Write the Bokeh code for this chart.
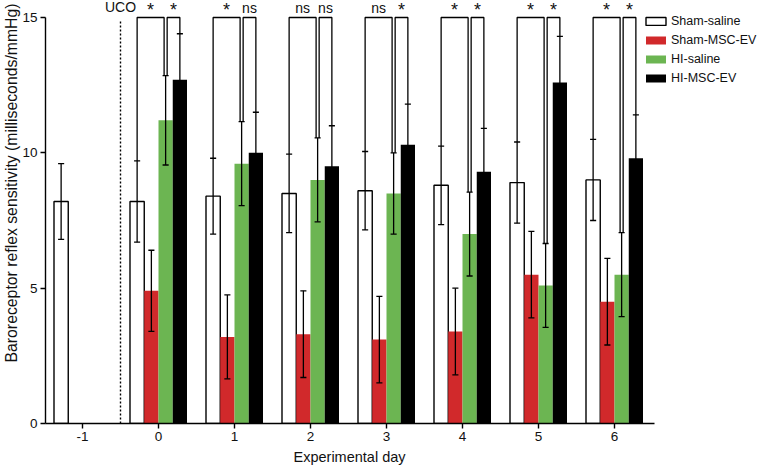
from bokeh.plotting import figure
from bokeh.models import Range1d, FixedTicker, Legend, LegendItem, Title
from bokeh.embed import file_html
from bokeh.resources import INLINE
from bokeh.core.properties import value

# ---------------- data ----------------
days = [-1, 0, 1, 2, 3, 4, 5, 6]
day_labels = {-1: "-1"}
treat_days = [0, 1, 2, 3, 4, 5, 6]
groups = ["Sham-saline", "Sham-MSC-EV", "HI-saline", "HI-MSC-EV"]

sham_saline = [8.2, 8.2, 8.4, 8.5, 8.6, 8.8, 8.9, 9.0]
sham_saline_err = [1.4, 1.5, 1.4, 1.45, 1.45, 1.45, 1.5, 1.5]
sham_msc_ev = [4.9, 3.2, 3.3, 3.1, 3.4, 5.5, 4.5]
sham_msc_ev_err = [1.5, 1.55, 1.6, 1.6, 1.6, 1.6, 1.6]
hi_saline = [11.2, 9.6, 9.0, 8.5, 7.0, 5.1, 5.5]
hi_saline_err = [1.65, 1.55, 1.55, 1.5, 1.55, 1.55, 1.55]
hi_msc_ev = [12.7, 10.0, 9.5, 10.3, 9.3, 12.6, 9.8]
hi_msc_ev_err = [1.7, 1.5, 1.5, 1.5, 1.6, 1.7, 1.6]

# significance: Sham-saline vs HI-saline, HI-saline vs HI-MSC-EV
sig_sham_vs_hi = ["*", "*", "ns", "ns", "*", "*", "*"]
sig_hi_vs_ev = ["*", "ns", "ns", "*", "*", "*", "*"]

y_ticks = [0, 5, 10, 15]
y_max = 15
uco_day = -0.5

# ---------------- style ----------------
FONT = "Liberation Sans"
TXT = "#111111"
colors = ["white", "#d1292b", "#6cb552", "black"]
bar_w = 0.1875
offsets = [-1.5 * bar_w, -0.5 * bar_w, 0.5 * bar_w, 1.5 * bar_w]
cap = 0.04
gap = 0.02

left = 43
frame_w, frame_h = 762 - left, 423
px_x = 76.0
x0 = -1 - (80 - left) / px_x
x1 = x0 + frame_w / px_x
px_y = (frame_h - 17) / y_max
y1 = y_max + 17 / px_y

p = figure(frame_width=frame_w, frame_height=frame_h, output_backend="svg",
           toolbar_location=None, x_range=Range1d(x0, x1), y_range=Range1d(0, y1),
           min_border_left=left, min_border_right=0, min_border_top=0, min_border_bottom=0)
p.background_fill_color = None
p.border_fill_color = None
p.outline_line_color = None
p.grid.visible = False

for ax in (p.xaxis[0], p.yaxis[0]):
    ax.axis_line_width = 1.4
    ax.axis_line_color = "black"
    ax.major_tick_line_width = 1.4
    ax.major_tick_line_color = "black"
    ax.major_tick_out = 5
    ax.major_tick_in = 0
    ax.minor_tick_line_color = None
    ax.major_label_text_font = FONT
    ax.major_label_text_font_size = "13.5px"
    ax.major_label_text_color = TXT
    ax.major_label_standoff = 3

p.xaxis.ticker = FixedTicker(ticks=days)
p.xaxis.major_label_overrides = day_labels
p.xaxis.bounds = (x0, 6.53)
p.yaxis.ticker = FixedTicker(ticks=y_ticks)
p.yaxis.bounds = (0, y_max)

ytitle = Title(text="Baroreceptor reflex sensitivity (milliseconds/mmHg)", align="left",
               offset=61, standoff=0, text_font=FONT, text_font_size="15.8px",
               text_font_style="normal", text_color=TXT)
p.add_layout(ytitle, "left")
xtitle = Title(text="Experimental day", align="left", offset=248, standoff=6,
               text_font=FONT, text_font_size="14.5px", text_font_style="normal",
               text_color=TXT)
p.add_layout(xtitle, "below")

# ---------------- bars ----------------
series = [
    (days, sham_saline, sham_saline_err),
    (treat_days, sham_msc_ev, sham_msc_ev_err),
    (treat_days, hi_saline, hi_saline_err),
    (treat_days, hi_msc_ev, hi_msc_ev_err),
]
renderers = []
for i, (dd, vals, errs) in enumerate(series):
    xs = [d + offsets[i] for d in dd]
    if i == 0:
        r = p.vbar(x=xs, top=vals, bottom=0, width=bar_w, fill_color="white",
                   line_color="black", line_width=1.4)
    else:
        r = p.vbar(x=xs, top=vals, bottom=0, width=bar_w, fill_color=colors[i],
                   line_color=None)
    renderers.append(r)

# error bars
for i, (dd, vals, errs) in enumerate(series):
    xs = [d + offsets[i] for d in dd]
    lo = [v - e for v, e in zip(vals, errs)]
    hi = [v + e for v, e in zip(vals, errs)]
    p.segment(x0=xs, y0=lo, x1=xs, y1=hi, line_color="black", line_width=1.3)
    p.segment(x0=[x - cap for x in xs], y0=hi, x1=[x + cap for x in xs], y1=hi,
              line_color="black", line_width=1.3)
    p.segment(x0=[x - cap for x in xs], y0=lo, x1=[x + cap for x in xs], y1=lo,
              line_color="black", line_width=1.3)

# UCO dotted line
p.segment(x0=[uco_day], y0=[0], x1=[uco_day], y1=[y_max - 3 / px_y], line_color="black",
          line_width=1.4, line_dash="2 2")
p.text(x=[uco_day], y=[y_max + 11 / px_y], text=["UCO"], text_align="center",
       text_baseline="middle", text_font=value(FONT), text_font_size="14px",
       text_color=TXT)

# significance brackets
white_top = [v + e for v, e in zip(sham_saline[1:], sham_saline_err[1:])]
green_top = [v + e for v, e in zip(hi_saline, hi_saline_err)]
black_top = [v + e for v, e in zip(hi_msc_ev, hi_msc_ev_err)]
bx, by, lx, lt = [], [], [], []
for k, d in enumerate(treat_days):
    xw = d + offsets[0]
    xg = d + offsets[2]
    xb = d + offsets[3]
    bx.append([xw, xw, xg - gap, xg - gap])
    by.append([white_top[k], y_max, y_max, green_top[k]])
    bx.append([xg + gap, xg + gap, xb, xb])
    by.append([green_top[k], y_max, y_max, black_top[k]])
    lx.append((xw + xg - gap) / 2)
    lt.append(sig_sham_vs_hi[k])
    lx.append((xg + gap + xb) / 2)
    lt.append(sig_hi_vs_ev[k])
p.multi_line(xs=bx, ys=by, line_color="black", line_width=1.3)

star_x = [x for x, t in zip(lx, lt) if t == "*"]
ns_x = [x for x, t in zip(lx, lt) if t == "ns"]
p.text(x=star_x, y=[y_max + 8 / px_y] * len(star_x), text=["*"] * len(star_x),
       text_align="center", text_baseline="middle", text_font=value(FONT),
       text_font_size="18px", text_color=TXT)
p.text(x=ns_x, y=[y_max + 10 / px_y] * len(ns_x), text=["ns"] * len(ns_x),
       text_align="center", text_baseline="middle", text_font=value(FONT),
       text_font_size="14px", text_color=TXT)

# legend
legend = Legend(items=[LegendItem(label=g, renderers=[r]) for g, r in zip(groups, renderers)],
                location=(598, 338), glyph_width=25, glyph_height=10, label_standoff=3,
                spacing=4, padding=0, margin=0, label_height=15,
                border_line_color=None, background_fill_alpha=0,
                label_text_font=FONT, label_text_font_size="12.5px", label_text_color=TXT)
p.add_layout(legend)

open("out.html", "w").write(file_html(p, INLINE))
